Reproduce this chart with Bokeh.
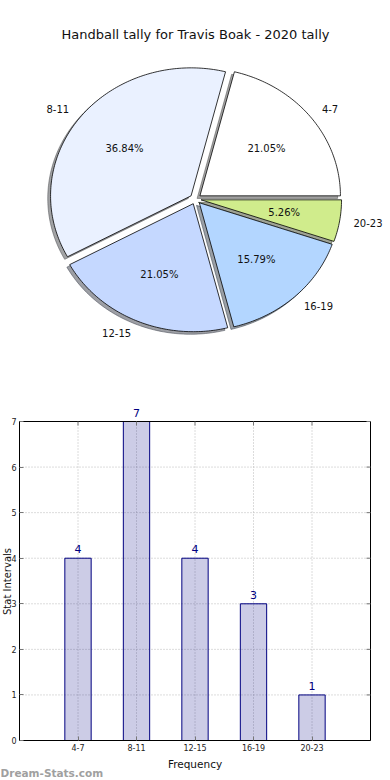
import numpy as np
from bokeh.plotting import figure
from bokeh.models import Range1d, ColumnDataSource, LabelSet, Label, FixedTicker
from bokeh.layouts import column
from bokeh.embed import file_html
from bokeh.resources import INLINE
from bokeh.core.properties import value

# ---------------- data ----------------
title_text = "Handball tally for Travis Boak - 2020 tally"
categories = ["4-7", "8-11", "12-15", "16-19", "20-23"]
counts = [4, 7, 4, 3, 1]
slice_colors = ["#ffffff", "#eaf1ff", "#c5d8ff", "#b3d6ff", "#d0ec8c"]
y_ticks = [0, 1, 2, 3, 4, 5, 6, 7]
x_label = "Frequency"
y_label = "Stat Intervals"
watermark = "Dream-Stats.com"

FONT = "DejaVu Sans"
W = 390
H_TOTAL = 780
PIE_H = 395
BAR_H = H_TOTAL - PIE_H
# bar chart plot box, in canvas pixels
PLOT_L, PLOT_R, PLOT_T, PLOT_B = 19, 370, 421, 740

# ---------------- pie ----------------
# pie data coordinates == canvas pixels (y grows downward)
pie = figure(width=W, height=PIE_H, x_range=Range1d(0, W), y_range=Range1d(PIE_H, 0),
             output_backend="svg", toolbar_location=None, min_border=0,
             x_axis_type=None, y_axis_type=None)
pie.grid.visible = False
pie.outline_line_color = None
pie.background_fill_color = "white"
pie.border_fill_color = "white"

cx, cy, rx, ry = 195.0, 198.5, 140.5, 128.0
explode = 0.04
shadow_off = 0.02
label_dist = 1.1
pct_dist = 0.6

total = float(sum(counts))
fracs = np.array(counts, dtype=float) / total
bounds = np.concatenate([[0.0], np.cumsum(fracs)]) * 2 * np.pi


def hex_to_rgb(h):
    h = h.lstrip("#")
    return tuple(int(h[i:i + 2], 16) for i in (0, 2, 4))


wx, wy, sx, sy, sh_cols = [], [], [], [], []
lab = {"left": ([], [], []), "right": ([], [], [])}
px_l, py_l, pt_l = [], [], []
for i, cat in enumerate(categories):
    t1, t2 = bounds[i], bounds[i + 1]
    mid = 0.5 * (t1 + t2)
    ox, oy = explode * np.cos(mid), explode * np.sin(mid)
    n = max(int(np.degrees(t2 - t1)), 2) + 1
    th = np.linspace(t1, t2, n)
    ux_ = np.concatenate([[ox], ox + np.cos(th), [ox]])
    uy_ = np.concatenate([[oy], oy + np.sin(th), [oy]])
    px = cx + rx * ux_
    py = cy - ry * uy_
    wx.append(list(px))
    wy.append(list(py))
    sx.append(list(px - rx * shadow_off))
    sy.append(list(py + ry * shadow_off))
    r, g, b = hex_to_rgb(slice_colors[i])
    sh_cols.append("#%02x%02x%02x" % (int(0.3 * r), int(0.3 * g), int(0.3 * b)))
    key = "left" if np.cos(mid) >= 0 else "right"
    lab[key][0].append(cx + rx * (ox + label_dist * np.cos(mid)))
    lab[key][1].append(cy - ry * (oy + label_dist * np.sin(mid)))
    lab[key][2].append(cat)
    px_l.append(cx + rx * (ox + pct_dist * np.cos(mid)))
    py_l.append(cy - ry * (oy + pct_dist * np.sin(mid)))
    pt_l.append("%.2f%%" % (100 * fracs[i]))

pie.patches(sx, sy, fill_color=sh_cols, fill_alpha=0.5, line_color=sh_cols, line_alpha=0.5, line_width=1)
pie.patches(wx, wy, fill_color=slice_colors, line_color="black", line_width=0.8)

for align, (lx, ly, lt) in lab.items():
    s = ColumnDataSource(dict(x=lx, y=ly, t=lt))
    pie.add_layout(LabelSet(x="x", y="y", text="t", source=s, text_align=align,
                            text_baseline="middle", text_font=value(FONT),
                            text_font_size="10px", text_color="#111111"))
ps = ColumnDataSource(dict(x=px_l, y=py_l, t=pt_l))
pie.add_layout(LabelSet(x="x", y="y", text="t", source=ps, text_align="center",
                        text_baseline="middle", text_font=value(FONT),
                        text_font_size="10px", text_color="#111111"))
pie.add_layout(Label(x=195, y=34, text=title_text, text_align="center", text_baseline="alphabetic",
                     text_font=FONT, text_font_size="13px", text_color="#111111"))

# ---------------- bar ----------------
xs = list(range(1, len(categories) + 1))
ymax = max(y_ticks)
xmax = len(categories) + 1
ux = (PLOT_R - PLOT_L) / xmax   # px per x unit
uy = (PLOT_B - PLOT_T) / ymax   # px per y unit

# the frame spans the whole canvas; the plot box is drawn inside it
bar = figure(width=W, height=BAR_H,
             x_range=Range1d(-PLOT_L / ux, (W - PLOT_L) / ux),
             y_range=Range1d(-(H_TOTAL - PLOT_B) / uy, ymax + (PLOT_T - PIE_H) / uy),
             output_backend="svg", toolbar_location=None, min_border=0)
bar.background_fill_color = "white"
bar.border_fill_color = "white"
bar.outline_line_color = None
bar.grid.visible = False


def dx(px):  # canvas px -> bar data x
    return (px - PLOT_L) / ux


def dy(py):  # canvas px -> bar data y
    return (PLOT_B - py) / uy


grid_kw = dict(line_color="#b8b8b8", line_dash="1 2", line_width=1)
bar.segment(x0=xs, y0=[0] * len(xs), x1=xs, y1=[ymax] * len(xs), **grid_kw)
bar.segment(x0=[0] * len(y_ticks), y0=y_ticks, x1=[xmax] * len(y_ticks), y1=y_ticks, **grid_kw)

src = ColumnDataSource(dict(x=xs, top=counts, lab=[str(c) for c in counts]))
bar.vbar(x="x", top="top", width=0.45, source=src, fill_color="navy", fill_alpha=0.2,
         line_color="navy", line_width=1)
bar.add_layout(LabelSet(x="x", y="top", text="lab", source=src, text_align="center",
                        text_baseline="alphabetic", y_offset=5, text_color="navy",
                        text_font=value(FONT), text_font_size="11px"))

# plot box
bar.quad(left=[0], right=[xmax], bottom=[0], top=[ymax], fill_color=None,
         line_color="black", line_width=1)

# inward tick marks on the top and right edges
bar.ray(x=xs, y=[ymax] * len(xs), length=4, length_units="screen", angle=-np.pi / 2,
        line_color="#777777", line_width=1)
bar.ray(x=[xmax] * len(y_ticks), y=y_ticks, length=4, length_units="screen",
        angle=np.pi, line_color="#777777", line_width=1)

bar.xaxis.ticker = FixedTicker(ticks=xs)
bar.xaxis.major_label_overrides = {x: c for x, c in zip(xs, categories)}
bar.xaxis.fixed_location = 0
bar.xaxis.bounds = (0, xmax)
bar.yaxis.ticker = FixedTicker(ticks=y_ticks)
bar.yaxis.fixed_location = 0
bar.yaxis.bounds = (0, ymax)
for ax in (bar.xaxis, bar.yaxis):
    ax.major_tick_in = 4
    ax.major_tick_out = 0
    ax.minor_tick_line_color = None
    ax.major_tick_line_color = "#777777"
    ax.axis_line_color = "black"
    ax.major_label_text_font = FONT
    ax.major_label_text_font_size = "8px"
    ax.major_label_text_color = "#222222"
bar.xaxis.major_label_standoff = 3
bar.yaxis.major_label_standoff = 3

bar.add_layout(Label(x=dx(6.5), y=dy(581), text=y_label,
                     angle=np.pi / 2, text_align="center", text_baseline="alphabetic",
                     text_font=FONT, text_font_size="10px", text_color="#111111"))
bar.add_layout(Label(x=xmax / 2, y=dy(763), text=x_label,
                     text_align="center", text_baseline="alphabetic",
                     text_font=FONT, text_font_size="10.5px", text_color="#111111"))
bar.add_layout(Label(x=dx(0), y=dy(772), text=watermark,
                     text_align="left", text_baseline="alphabetic", text_font=FONT,
                     text_font_style="bold", text_font_size="10.5px", text_color="#a0a0a0"))

layout = column(pie, bar)
open("out.html", "w").write(file_html(layout, INLINE))
